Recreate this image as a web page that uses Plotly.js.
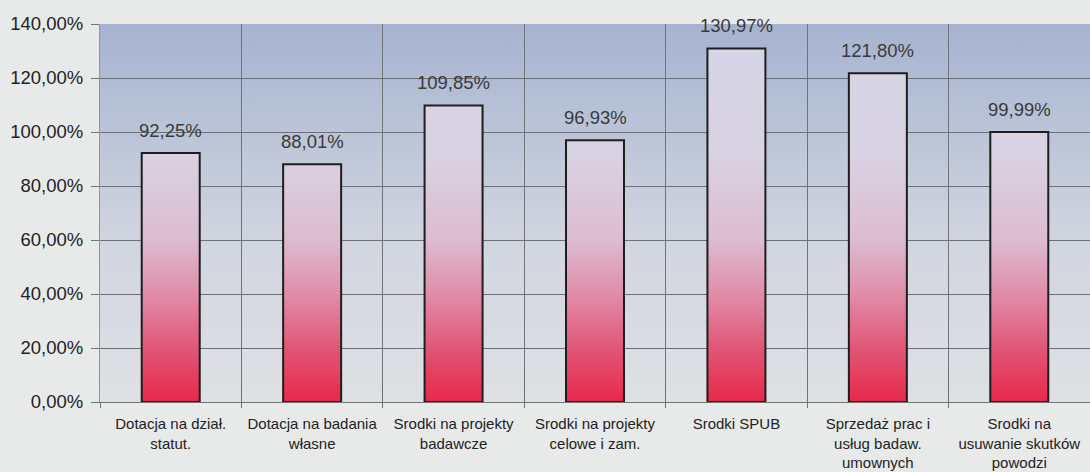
<!DOCTYPE html>
<html>
<head>
<meta charset="utf-8">
<script src="https://cdn.plot.ly/plotly-3.0.1.min.js"></script>
<style>
  body { margin:0; background:#e8eaea; }
  #chart { width:1090px; height:472px; }
</style>
</head>
<body>
<div id="chart"></div>
<script>

/* ==========================================
   DATA
========================================== */

const categories = [
    "Dotacja na dział.<br>statut.",
    "Dotacja na badania<br>własne",
    "Srodki na projekty<br>badawcze",
    "Srodki na projekty<br>celowe i zam.",
    "Srodki SPUB",
    "Sprzedaż prac i<br>usług badaw.<br>umownych",
    "Srodki na<br>usuwanie skutków<br>powodzi"
];

const values = [92.25, 88.01, 109.85, 96.93, 130.97, 121.80, 99.99];

const yTicks = [0, 20, 40, 60, 80, 100, 120, 140];


/* ==========================================
   DRAW
========================================== */

function drawChart(){

    const labels = values.map((v, i)=>({
        x: categories[i],
        y: v,
        text: v.toFixed(2).replace(".", ",") + "%",
        showarrow: false,
        yanchor: "bottom",
        yshift: 10,
        font: { family: "Liberation Sans, Arial", size: 18.5, color: "#3a3a3a" }
    }));

    Plotly.newPlot(

        "chart",

        [
            {
                x: categories,
                y: values,
                type: "bar",
                marker: {
                    color: "#e08ca8",
                    line: { color: "#1e1e1e", width: 2 }
                },
                hoverinfo: "skip"
            }
        ],

        {
            width: 1090,
            height: 472,
            margin: { l: 100, r: 0, t: 24, b: 70 },
            paper_bgcolor: "#e8eaea",
            plot_bgcolor: "#c8cedc",
            bargap: 0.59,
            showlegend: false,
            font: { family: "Liberation Sans, Arial", color: "#222" },
            xaxis: {
                type: "category",
                tickson: "boundaries",
                showgrid: true,
                gridcolor: "#707478",
                gridwidth: 1,
                ticks: "outside",
                ticklen: 5,
                ticklabelstandoff: 8,
                tickcolor: "#707478",
                showline: true,
                linecolor: "#707478",
                tickfont: { size: 15, color: "#222" },
                fixedrange: true
            },
            yaxis: {
                range: [0, 140],
                tickvals: yTicks,
                ticktext: yTicks.map(t => t.toFixed(2).replace(".", ",") + "%"),
                showgrid: true,
                gridcolor: "#6c7078",
                gridwidth: 1,
                zeroline: false,
                ticks: "outside",
                ticklen: 8,
                ticklabelstandoff: 4,
                tickcolor: "#707478",
                showline: true,
                linecolor: "#909498",
                tickfont: { size: 18.5, color: "#222" },
                fixedrange: true
            },
            annotations: labels
        },

        {
            staticPlot: true
        }

    ).then(applyGradients);

}


/* ==========================================
   GRADIENTS (background + bars)
========================================== */

function addGradient(defs, id, stops, y1, y2){

    const ns = "http://www.w3.org/2000/svg";

    const g = document.createElementNS(ns, "linearGradient");

    g.setAttribute("id", id);
    g.setAttribute("gradientUnits", "userSpaceOnUse");
    g.setAttribute("x1", 0);
    g.setAttribute("x2", 0);
    g.setAttribute("y1", y1);
    g.setAttribute("y2", y2);

    stops.forEach(s=>{
        const st = document.createElementNS(ns, "stop");
        st.setAttribute("offset", s[0]);
        st.setAttribute("stop-color", s[1]);
        g.appendChild(st);
    });

    defs.appendChild(g);

}

function applyGradients(gd){

    const h = gd._fullLayout.yaxis._length;

    const defs = gd.querySelector("svg.main-svg defs");

    // bars live inside the plot group, so 0..h is the plot height
    addGradient(defs, "barGrad", [
        [0, "#e8284a"],
        [0.14, "#e05676"],
        [0.29, "#e08eaa"],
        [0.43, "#dcbccf"],
        [0.65, "#d8d2e2"],
        [1, "#d6d6e6"]
    ], h, 0);

    gd.querySelectorAll(".bars .point path").forEach(p=>{
        p.style.fill = "url(#barGrad)";
    });

    const bg = gd.querySelector(".bglayer rect.bg");

    if(bg){
        const y0 = Number(bg.getAttribute("y"));
        addGradient(defs, "bgGrad", [
            [0, "#dee0e3"],
            [0.4, "#d2d6df"],
            [0.7, "#bcc5d8"],
            [1, "#a6b3d0"]
        ], y0 + h, y0);
        bg.style.fill = "url(#bgGrad)";
    }

}

drawChart();

</script>
</body>
</html>
